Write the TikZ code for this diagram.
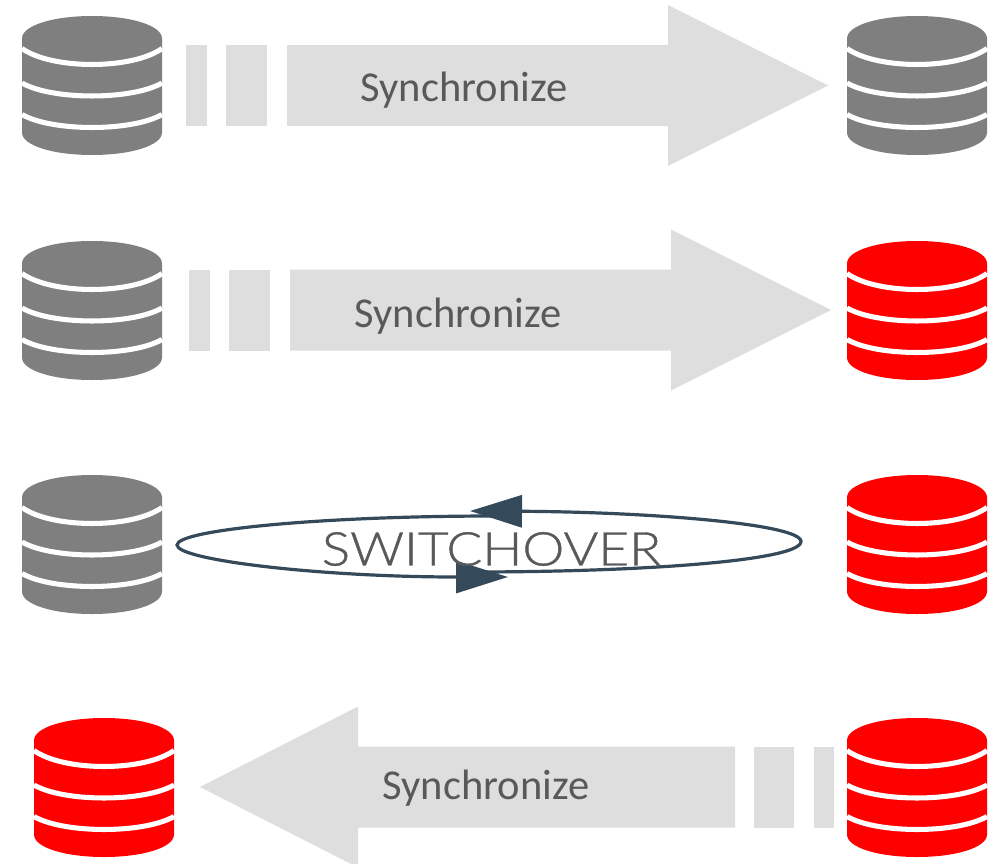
\documentclass[tikz,border=0pt]{standalone}
\usepackage{fontspec}
\setmainfont{Carlito}
\newfontfamily\lightfont[FakeBold=0.8]{Lato Light}
\usetikzlibrary{arrows.meta}
\definecolor{dbgray}{HTML}{7F7F7F}
\definecolor{dbred}{HTML}{FF0000}
\definecolor{bandgray}{HTML}{DEDEDE}
\definecolor{labelgray}{HTML}{595959}
\definecolor{loopblue}{HTML}{34495A}
\tikzset{
  x=0.75pt,y=-0.75pt,
  dbbox/.style={inner sep=0,outer sep=0,minimum width=105pt,minimum height=104.25pt},
  dbring/.style={draw=white,line width=3.8pt},
  band/.style={fill=bandgray,draw=none},
  synclabel/.style={text=labelgray,font=\fontsize{31.9pt}{36pt}\selectfont,inner sep=0},
  looplabel/.style={text=labelgray,inner sep=0},
  loopline/.style={draw=loopblue,line width=2.4pt,-{Triangle[length=39pt,width=24pt]}},
}
% \dbicon{name}{centre x}{centre y}{colour}
\newcommand{\dbicon}[4]{%
  \node[dbbox] (#1) at (#2,#3) {};
  \begin{scope}[shift={(#1.center)}]
    \fill[#4] (-70,-47) .. controls (-70,-60) and (-39,-69.5) .. (0,-69.5)
      .. controls (39,-69.5) and (70,-60) .. (70,-47) -- (70,47)
      .. controls (70,60) and (39,69.5) .. (0,69.5)
      .. controls (-39,69.5) and (-70,60) .. (-70,47) -- cycle;
    \draw[dbring] (-70,-37) .. controls (-40,-15.7) and (40,-15.7) .. (70,-37);
    \draw[dbring] (-70,-2.5) .. controls (-40,14.8) and (40,14.8) .. (70,-2.5);
    \draw[dbring] (-70,29) .. controls (-40,46.3) and (40,46.3) .. (70,29);
  \end{scope}}
% dashed block arrow, pointing right from the coordinate at its left end, on the axis
\newcommand{\syncright}[1]{%
  \fill[band] (#1) ++(0,-40.5) rectangle ++(21,81);
  \fill[band] (#1) ++(40,-40.5) rectangle ++(41,81);
  \fill[band] (#1) ++(101,-40.5) -- ++(381,0) -- ++(0,-40) -- ++(160,80.5) -- ++(-160,80.5) -- ++(0,-40) -- ++(-381,0) -- cycle;}
\newcommand{\syncleft}[1]{%
  \fill[band] (#1) ++(0,-40.5) rectangle ++(-20,81);
  \fill[band] (#1) ++(-40,-40.5) rectangle ++(-40,81);
  \fill[band] (#1) ++(-99,-40.5) -- ++(-377,0) -- ++(0,-40) -- ++(-158,80.5) -- ++(158,80.5) -- ++(0,-40) -- ++(377,0) -- cycle;}
\begin{document}
\begin{tikzpicture}
  \useasboundingbox (0,0) rectangle (1000,864);
  \clip (0,0) rectangle (1000,864);
  \fill[white] (0,0) rectangle (1000,864);

  \coordinate (a1) at (186,85.5);
  \coordinate (a2) at (189,310);
  \coordinate (a4) at (834,787);
  \syncright{a1}
  \syncright{a2}
  \syncleft{a4}

  \dbicon{d1l}{92}{85.5}{dbgray}
  \dbicon{d1r}{917}{85.5}{dbgray}
  \dbicon{d2l}{92}{310.5}{dbgray}
  \dbicon{d2r}{917}{310.5}{dbred}
  \dbicon{d3l}{92}{544.5}{dbgray}
  \dbicon{d3r}{917}{544.5}{dbred}
  \dbicon{d4l}{104}{787.5}{dbred}
  \dbicon{d4r}{917}{787.5}{dbred}

  \node[synclabel] (s1) at (464,90.5) {Synchronize};
  \node[synclabel] (s2) at (458,316.5) {Synchronize};
  \node[synclabel] (s4) at (486,788.5) {Synchronize};

  \coordinate (lr) at (801,541.5);
  \coordinate (ll) at (177,545);
  \coordinate (ltop) at (470,511);
  \coordinate (lbot) at (508,577);
  \coordinate (lstartb) at (470,572);
  \coordinate (lstartt) at (495,516);
  \draw[loopline] (lstartb) .. controls (650,572) and (801,560) .. (lr)
     .. controls (801,524) and (650,512) .. (ltop);
  \draw[loopline] (lstartt) .. controls (320,516) and (177,530) .. (ll)
     .. controls (177,560) and (320,577) .. (lbot);
  \node[looplabel] (sw) at (491.5,549) {\resizebox{254.5pt}{25pt}{\lightfont SWITCHOVER}};
\end{tikzpicture}
\end{document}
